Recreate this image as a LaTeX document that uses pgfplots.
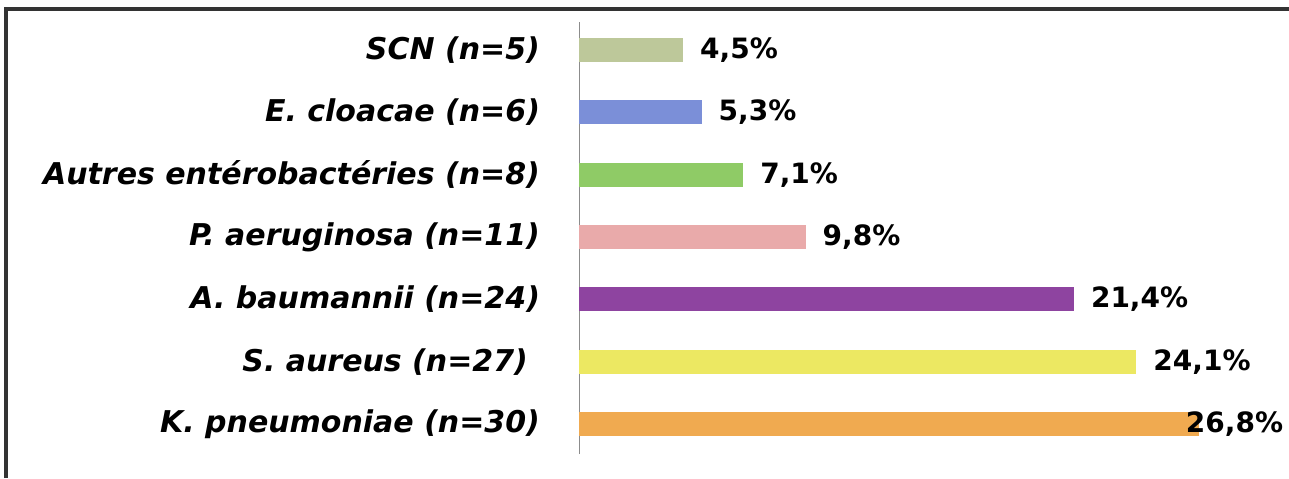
\documentclass[border=0pt]{standalone}
\usepackage{pgfplots}
\pgfplotsset{compat=1.18}
\usepackage{fontspec}
\setmainfont{DejaVu Sans}
\definecolor{cSCN}{HTML}{BDC89A}
\definecolor{cEC}{HTML}{7B8FD8}
\definecolor{cAE}{HTML}{8FCB66}
\definecolor{cPA}{HTML}{E9AAAA}
\definecolor{cAB}{HTML}{8E44A0}
\definecolor{cSA}{HTML}{ECE862}
\definecolor{cKP}{HTML}{F0AA50}
\begin{document}
\begin{tikzpicture}
\path[use as bounding box] (0,0) rectangle (644.5pt,239pt);
\draw[line width=1.6pt, black!80] (3pt,0) -- (3pt,234.5pt) -- (644.5pt,234.5pt);
\begin{axis}[
  at={(289.5pt,12pt)}, anchor=south west,
  scale only axis, width=323.8pt, height=216pt,
  xmin=0, xmax=28, ymin=-0.48, ymax=6.45,
  axis x line=none,
  axis y line*=left,
  y axis line style={black!45, line width=0.5pt},
  ytick={0,1,2,3,4,5,6},
  yticklabels={{K. pneumoniae (n=30)},{S. aureus (n=27)\kern6pt},{A. baumannii (n=24)},{P. aeruginosa (n=11)},{Autres entérobactéries (n=8)},{E. cloacae (n=6)},{SCN (n=5)}},
  yticklabel style={font=\fontsize{15}{17}\selectfont\bfseries\itshape, xshift=-16pt},
  major tick length=0pt,
  xbar, bar width=12pt, bar shift=0pt,
  /pgf/number format/assume math mode=true,
  nodes near coords={\pgfmathprintnumber[fixed,precision=1,use comma,fixed zerofill,assume math mode=true]{\pgfplotspointmeta}\%},
  point meta=x,
  every node near coord/.append style={font=\fontsize{14}{16}\selectfont\bfseries, anchor=west, xshift=5pt, text=black},
  clip=false,
]
\addplot[draw=none, fill=cKP, every node near coord/.append style={xshift=-15pt}] coordinates {(26.8,0)};
\addplot[draw=none, fill=cSA] coordinates {(24.1,1)};
\addplot[draw=none, fill=cAB] coordinates {(21.4,2)};
\addplot[draw=none, fill=cPA] coordinates {(9.8,3)};
\addplot[draw=none, fill=cAE] coordinates {(7.1,4)};
\addplot[draw=none, fill=cEC] coordinates {(5.3,5)};
\addplot[draw=none, fill=cSCN] coordinates {(4.5,6)};
\end{axis}
\end{tikzpicture}
\end{document}
